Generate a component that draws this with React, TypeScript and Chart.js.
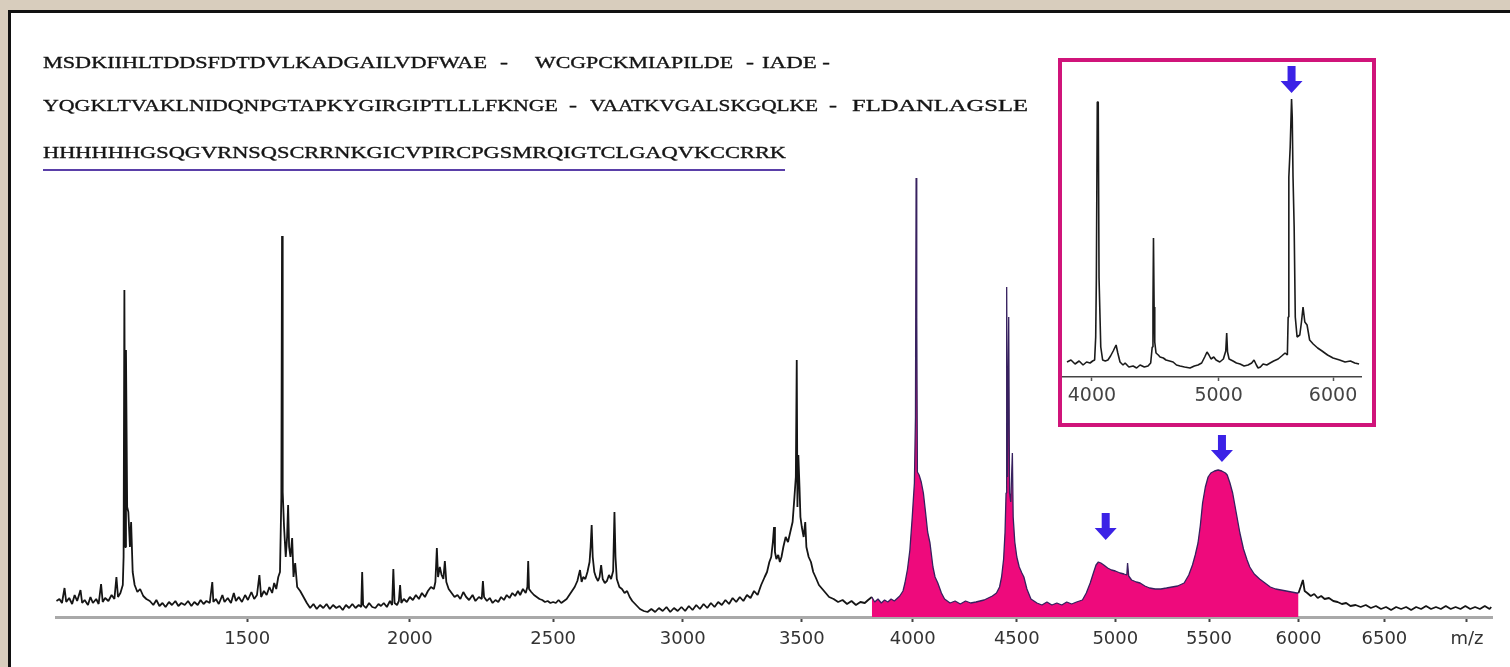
import React, { useEffect, useRef } from 'react';
import { Chart, LinearScale, registerables } from 'chart.js';

// ---------- data ----------
// main spectrum, unfilled low-mass part (m/z, intensity)
const LOW_MZ = [1005,1012,1018,1024,1028,1035,1042,1048,1054,1062,1066,1072,1080,1086,1092,1100,1106,1112,1116,1122,1130,1138,1145,1150,1154,1160,1166,1168,1170,1172,1174,1177,1180,1184,1187,1191,1196,1203,1210,1218,1226,1235,1244,1252,1260,1268,1276,1285,1293,1302,1310,1318,1327,1336,1345,1353,1362,1370,1378,1386,1395,1402,1405,1412,1420,1430,1436,1445,1454,1462,1468,1476,1485,1494,1502,1512,1520,1528,1535,1540,1548,1556,1564,1572,1578,1584,1590,1595,1599,1601,1603,1607,1612,1616,1619,1622,1626,1631,1635,1640,1646,1655,1665,1675,1685,1695,1705,1715,1725,1735,1745,1755,1765,1775,1785,1795,1805,1815,1825,1835,1843,1846,1849,1858,1868,1878,1888,1898,1906,1915,1925,1935,1942,1946,1950,1958,1964,1968,1972,1980,1990,2000,2010,2020,2030,2040,2050,2060,2070,2080,2085,2090,2094,2100,2106,2112,2117,2122,2130,2140,2150,2160,2170,2180,2190,2200,2212,2222,2234,2244,2248,2252,2262,2272,2282,2292,2302,2312,2322,2332,2342,2352,2362,2372,2380,2390,2400,2406,2409,2412,2420,2430,2440,2450,2460,2470,2480,2490,2500,2510,2520,2530,2540,2550,2560,2570,2580,2590,2600,2606,2612,2620,2628,2636,2640,2644,2648,2654,2660,2668,2674,2680,2686,2694,2702,2710,2718,2726,2731,2735,2740,2750,2760,2770,2780,2790,2800,2815,2830,2845,2860,2875,2890,2905,2920,2935,2950,2965,2980,2995,3010,3025,3040,3055,3070,3085,3100,3115,3130,3145,3160,3175,3190,3205,3220,3235,3250,3265,3280,3295,3310,3325,3340,3350,3360,3368,3375,3380,3384,3390,3398,3405,3412,3420,3430,3440,3450,3460,3468,3474,3478,3481,3485,3490,3494,3500,3508,3515,3520,3530,3540,3550,3560,3575,3590,3605,3620,3640,3660,3680,3700,3720,3740,3760,3780,3795,3812];
const LOW_INT = [16,18,14,29,15,19,13,22,16,27,14,17,12,20,14,18,13,33,15,19,16,22,18,40,20,24,32,60,327,70,267,110,105,70,95,45,32,25,28,21,18,16,12,17,11,14,10,15,12,16,11,14,12,16,11,15,12,17,13,16,14,35,15,18,13,22,15,19,14,24,16,20,15,22,17,25,18,22,42,20,26,22,30,24,34,28,40,45,120,381,125,90,60,80,112,70,60,79,40,54,30,26,20,14,9,13,8,12,9,13,8,12,9,11,7,12,9,13,9,12,10,45,12,9,14,10,9,13,11,14,10,16,12,48,14,12,16,32,14,18,15,20,17,22,18,24,20,26,30,28,35,69,40,50,42,38,56,35,28,24,20,22,18,25,20,17,22,16,20,18,36,20,16,19,14,17,15,20,17,22,19,24,21,26,22,28,24,30,56,28,25,22,20,18,17,15,16,14,15,14,17,14,16,18,22,26,30,36,47,35,40,38,45,55,70,92,60,45,40,36,40,52,38,34,36,42,38,46,105,60,38,30,28,24,26,20,16,12,8,6,5,8,5,9,6,10,5,9,6,10,6,11,7,12,8,13,9,14,10,15,12,17,13,19,15,20,16,22,19,26,22,32,40,45,55,60,75,90,65,58,62,55,60,70,80,75,85,95,120,140,257,110,162,130,100,90,80,95,70,60,55,45,40,32,28,24,20,18,15,17,13,16,12,15,14,17,20];

// main spectrum, highlighted (filled) part
const MID_MZ = [3812,3825,3840,3855,3870,3885,3900,3915,3930,3940,3955,3964,3976,3987,3998,4008,4013,4016,4019,4022,4030,4040,4050,4060,4070,4081,4095,4105,4118,4135,4150,4176,4200,4225,4250,4275,4300,4320,4340,4360,4380,4400,4415,4425,4435,4442,4447,4450,4454,4460,4464,4470,4478,4482,4490,4500,4512,4525,4535,4550,4570,4600,4625,4650,4675,4700,4725,4750,4775,4800,4830,4850,4870,4888,4900,4912,4925,4940,4960,4980,5000,5025,5045,5060,5064,5070,5085,5110,5130,5155,5180,5210,5240,5270,5300,5330,5365,5390,5410,5425,5440,5453,5465,5480,5495,5510,5530,5550,5570,5590,5600,5615,5630,5650,5670,5690,5710,5725,5750,5780,5810,5840,5870,5900,5930,5960,5990,6000];
const MID_INT = [20,15,18,14,17,15,18,16,19,21,26,34,48,67,100,134,200,439,300,145,142,135,124,105,85,74,50,40,34,24,18,14,16,13,16,14,15,16,17,19,21,24,30,40,58,85,124,330,140,300,124,115,164,100,75,60,50,44,40,28,18,14,12,15,12,14,12,15,13,15,17,24,34,45,52,55,54,52,49,47,46,44,43,42,54,41,37,35,34,31,29,28,28,29,30,31,34,42,52,62,74,92,114,130,140,144,146,147,146,144,142,134,124,104,84,68,57,50,43,38,34,30,28,27,26,25,24,24];

// main spectrum, unfilled high-mass part
const HIGH_MZ = [6000,6012,6025,6035,6050,6070,6090,6110,6130,6150,6175,6200,6225,6250,6275,6300,6330,6360,6390,6420,6450,6480,6510,6540,6570,6600,6630,6660,6690,6720,6750,6780,6810,6840,6870,6900,6930,6960,6990,7020,7050,7080,7110,7140,7150];
const HIGH_INT = [24,30,37,26,24,21,23,19,21,18,19,16,15,13,14,11,12,10,12,9,11,8,10,7,10,8,10,7,10,8,11,8,10,8,11,8,10,8,11,8,10,8,11,8,10];

// inset spectrum
const INSET_MZ = [3816,3845,3875,3905,3934,3960,3986,4005,4020,4028,4033,4040,4047,4053,4060,4066,4080,4100,4120,4140,4160,4182,4195,4212,4235,4251,4280,4313,4340,4367,4400,4429,4450,4462,4468,4472,4477,4482,4492,4510,4524,4550,4571,4600,4628,4655,4684,4720,4765,4800,4830,4860,4885,4904,4920,4937,4960,4979,5010,5040,5060,5068,5075,5088,5121,5150,5181,5215,5249,5280,5300,5320,5335,5355,5378,5410,5439,5470,5509,5540,5570,5590,5597,5603,5615,5627,5633,5640,5650,5660,5676,5700,5715,5729,5745,5765,5788,5820,5860,5900,5950,6000,6060,6110,6160,6200,6240];
const INSET_INT = [15,17,13,16,12,15,14,16,17,40,99,275,275,99,99,30,17,16,17,21,26,32,24,15,12,14,10,11,9,12,10,11,14,30,70,139,70,35,24,22,20,19,17,16,15,12,11,10,9,11,12,14,20,25,22,18,20,17,15,18,26,44,25,18,16,14,13,11,12,14,17,12,9,10,13,12,14,16,18,21,24,22,60,200,230,278,260,200,150,60,40,42,55,70,55,52,37,33,29,26,22,19,17,15,16,14,13];

const X_TICKS = [1500, 2000, 2500, 3000, 3500, 4000, 4500, 5000, 5500, 6000, 6500, 7000];
const X_TICK_LABELS = ['1500', '2000', '2500', '3000', '3500', '4000', '4500', '5000', '5500', '6000', '6500', 'm/z'];
const INSET_TICKS = [4000, 5000, 6000];

const ARROW_MZ = [4950, 5571];
const ARROW_TIP = [77, 155];
const INSET_ARROW_MZ = [5627];
const INSET_ARROW_TIP = [284];

const SEQ_ROW1 = ['MSDKIIHLTDDSFDTDVLKADGAILVDFWAE', '-', 'WCGPCKMIAPILDE', '-', 'IADE -'];
const SEQ_ROW2 = ['YQGKLTVAKLNIDQNPGTAPKYGIRGIPTLLLFKNGE', '-', 'VAATKVGALSKGQLKE', '-', 'FLDANLAGSLE'];
const SEQ_ROW3 = ['HHHHHHGSQGVRNSQSCRRNKGICVPIRCPGSMRQIGTCLGAQVKCCRRK'];

// ---------- layout / style ----------
const ROW_LAYOUT = [
  { y: 68, segs: [[43, 444], [500, 8], [535, 198], [746, 8], [762, 68]] },
  { y: 111, segs: [[43, 515], [569, 8], [590, 228], [829, 8], [852, 176]] },
  { y: 158, segs: [[43, 743]] },
];
const PINK = '#ee0a7c';
const ARROW_COLOR = '#3b22e6';

class SqrtScale extends LinearScale {
  static id = 'sqrt';
  static defaults = {};
  getPixelForValue(value: number) {
    const lo = Math.sqrt(this.min);
    const hi = Math.sqrt(this.max);
    return this.getPixelForDecimal((Math.sqrt(value) - lo) / (hi - lo));
  }
  getValueForPixel(pixel: number) {
    const lo = Math.sqrt(this.min);
    const hi = Math.sqrt(this.max);
    const s = lo + this.getDecimalForPixel(pixel) * (hi - lo);
    return s * s;
  }
}

Chart.register(...registerables, SqrtScale as any);

const pts = (xs: number[], ys: number[]) => xs.map((x, i) => ({ x, y: ys[i] }));

const arrowPlugin = (mzs: number[], tips: number[]) => ({
  id: 'arrows',
  afterDatasetsDraw(chart: any) {
    const { ctx, scales } = chart;
    ctx.save();
    ctx.fillStyle = ARROW_COLOR;
    mzs.forEach((m, i) => {
      const px = scales.x.getPixelForValue(m);
      const tip = scales.y.getPixelForValue(tips[i]);
      ctx.beginPath();
      ctx.moveTo(px - 4, tip - 27);
      ctx.lineTo(px + 4, tip - 27);
      ctx.lineTo(px + 4, tip - 12);
      ctx.lineTo(px + 11, tip - 12);
      ctx.lineTo(px, tip);
      ctx.lineTo(px - 11, tip - 12);
      ctx.lineTo(px - 4, tip - 12);
      ctx.closePath();
      ctx.fill();
    });
    ctx.restore();
  },
});

export default function App() {
  const mainRef = useRef<HTMLCanvasElement>(null);
  const insetRef = useRef<HTMLCanvasElement>(null);

  useEffect(() => {
    const lineBase = { pointRadius: 0, borderJoinStyle: 'bevel' as const, tension: 0 };
    const main = new Chart(mainRef.current!, {
      type: 'line',
      data: {
        datasets: [
          { ...lineBase, data: pts(MID_MZ, MID_INT), borderColor: '#37215f', borderWidth: 1.3, backgroundColor: PINK, fill: 'origin' },
          { ...lineBase, data: pts(LOW_MZ, LOW_INT), borderColor: '#151515', borderWidth: 1.8, fill: false },
          { ...lineBase, data: pts(HIGH_MZ, HIGH_INT), borderColor: '#151515', borderWidth: 1.8, fill: false },
        ],
      },
      options: {
        responsive: false,
        devicePixelRatio: 1,
        animation: false,
        events: [],
        layout: { padding: { left: 56, right: 18, top: 167, bottom: 0 } },
        plugins: { legend: { display: false }, tooltip: { enabled: false } },
        scales: {
          x: {
            type: 'sqrt' as any,
            min: 1004,
            max: 7155,
            afterBuildTicks: (s: any) => { s.ticks = X_TICKS.map((v) => ({ value: v })); },
            afterFit: (s: any) => { s.height = 50; },
            ticks: {
              autoSkip: false,
              maxRotation: 0,
              padding: 7,
              color: '#333',
              font: { family: 'DejaVu Sans', size: 18 },
              callback: (_v: any, i: number) => X_TICK_LABELS[i],
            },
            grid: { drawOnChartArea: false, drawTicks: true, tickLength: 5, tickColor: '#444', tickWidth: 2 },
            border: { display: true, color: '#a9a9a9', width: 3 },
          },
          y: { display: false, min: 0, max: 450 },
        },
      },
      plugins: [arrowPlugin(ARROW_MZ, ARROW_TIP)],
    });

    const inset = new Chart(insetRef.current!, {
      type: 'line',
      data: {
        datasets: [
          { ...lineBase, data: pts(INSET_MZ, INSET_INT), borderColor: '#1b1b1b', borderWidth: 1.6, fill: false },
        ],
      },
      options: {
        responsive: false,
        devicePixelRatio: 1,
        animation: false,
        events: [],
        layout: { padding: { left: 1, right: 11, top: 15, bottom: 0 } },
        plugins: { legend: { display: false }, tooltip: { enabled: false } },
        scales: {
          x: {
            type: 'sqrt' as any,
            min: 3787,
            max: 6258,
            afterBuildTicks: (s: any) => { s.ticks = INSET_TICKS.map((v) => ({ value: v })); },
            afterFit: (s: any) => { s.height = 46; },
            ticks: {
              autoSkip: false,
              maxRotation: 0,
              padding: 4,
              color: '#444',
              font: { family: 'DejaVu Sans', size: 19 },
              callback: (v: any) => String(v),
            },
            grid: { drawOnChartArea: false, drawTicks: true, tickLength: 4, tickColor: '#555', tickWidth: 1.5 },
            border: { display: true, color: '#444', width: 1.5 },
          },
          y: { display: false, min: 0, max: 300 },
        },
      },
      plugins: [arrowPlugin(INSET_ARROW_MZ, INSET_ARROW_TIP)],
    });

    return () => {
      main.destroy();
      inset.destroy();
    };
  }, []);

  const rows = [SEQ_ROW1, SEQ_ROW2, SEQ_ROW3];

  return (
    <div style={{ position: 'fixed', left: 0, top: 0, width: 1510, height: 667, overflow: 'hidden', background: '#d8cdbd' }}>
      <div style={{ position: 'absolute', left: 8, top: 10, width: 1510, height: 667, background: '#ffffff', borderLeft: '3px solid #111', borderTop: '3px solid #111', boxSizing: 'border-box' }} />
      <canvas ref={mainRef} width={1510} height={667} style={{ position: 'absolute', left: 0, top: 0, width: 1510, height: 667 }} />
      <svg width={1510} height={200} style={{ position: 'absolute', left: 0, top: 0 }}>
        {rows.map((row, r) =>
          row.map((t, k) => {
            const [x, w] = ROW_LAYOUT[r].segs[k];
            return (
              <text key={r + '-' + k} x={x} y={ROW_LAYOUT[r].y} textLength={w} lengthAdjust="spacingAndGlyphs"
                fontFamily="'Liberation Serif', serif" fontSize={17} fill="#151515" stroke="#151515" strokeWidth={0.35}
                style={{ whiteSpace: 'pre' }}>
                {t}
              </text>
            );
          })
        )}
        <line x1={43} x2={785} y1={170} y2={170} stroke="#5a3fa8" strokeWidth={2} />
      </svg>
      <div style={{ position: 'absolute', left: 1058, top: 58, width: 318, height: 369, border: '4px solid #d0147a', boxSizing: 'border-box', background: '#fff' }}>
        <canvas ref={insetRef} width={310} height={361} style={{ position: 'absolute', left: 0, top: 0, width: 310, height: 361 }} />
      </div>
    </div>
  );
}
